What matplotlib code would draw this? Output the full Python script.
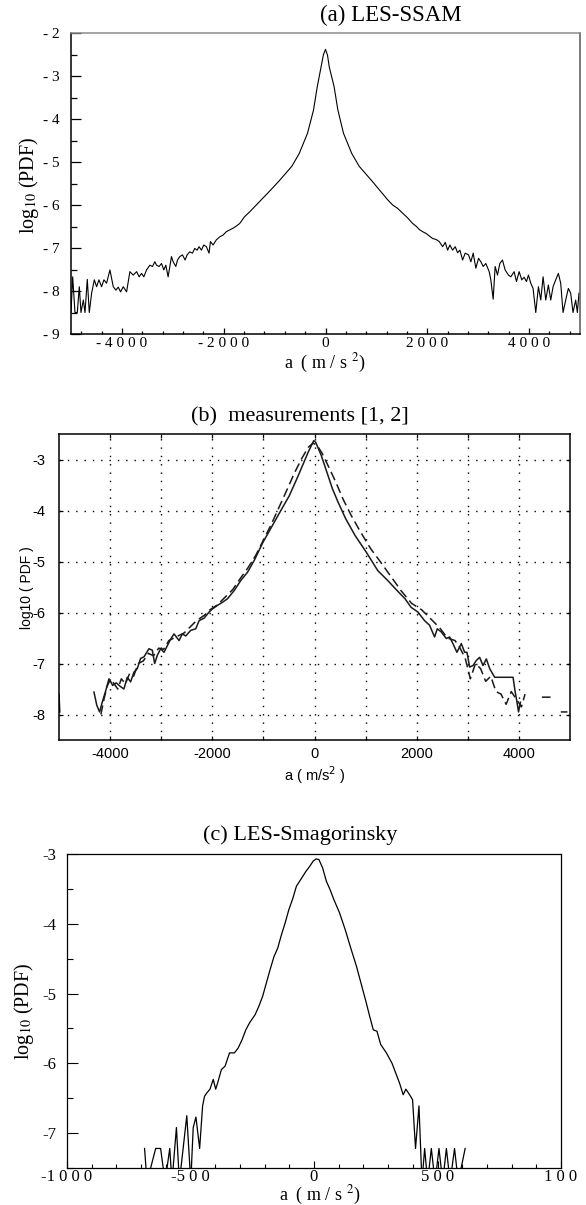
import numpy as np
import matplotlib
matplotlib.use("Agg")
import matplotlib.pyplot as plt
from matplotlib.ticker import MultipleLocator, FixedLocator, FixedFormatter

# ── (a) LES-SSAM ──
a_acc = [-5000, -4967, -4922, -4876, -4837, -4804, -4758, -4725, -4680, -4641,
         -4595, -4542, -4497, -4451, -4399, -4353, -4301, -4235, -4170, -4118,
         -4072, -4026, -3974, -3908, -3843, -3778, -3712, -3660, -3614, -3569,
         -3516, -3451, -3399, -3353, -3320, -3268, -3222, -3176, -3137, -3092,
         -3059, -3026, -2993, -2941, -2908, -2863, -2810, -2758, -2719, -2667,
         -2614, -2569, -2523, -2484, -2438, -2392, -2340, -2288, -2261, -2209,
         -2144, -2078, -2013, -1948, -1882, -1817, -1752, -1686, -1588, -1490,
         -1359, -1261, -1100, -919, -662, -515, -353, -235, -162, -88,
         -40, 0, 40, 74, 169, 243, 353, 515, 662, 919,
         1080, 1222, 1320, 1418, 1516, 1614, 1712, 1778, 1843, 1908,
         1974, 2039, 2105, 2170, 2235, 2301, 2353, 2399, 2444, 2497,
         2549, 2595, 2641, 2693, 2745, 2810, 2856, 2902, 2954, 3007,
         3052, 3098, 3150, 3216, 3248, 3294, 3333, 3379, 3425, 3477,
         3529, 3595, 3641, 3706, 3752, 3804, 3856, 3902, 3948, 3987,
         4033, 4078, 4131, 4183, 4229, 4275, 4327, 4379, 4425, 4471,
         4523, 4575, 4621, 4667, 4719, 4771, 4817, 4863, 4915, 4948, 4980]
a_logpdf = [-8.50, -7.67, -8.50, -8.50, -7.90, -8.50, -8.21, -8.50, -7.73, -8.50,
            -8.05, -7.74, -7.90, -7.74, -7.90, -7.74, -7.82, -7.51, -7.90, -7.98,
            -7.91, -8.02, -7.90, -8.02, -7.55, -7.63, -7.55, -7.67, -7.59, -7.67,
            -7.51, -7.40, -7.43, -7.32, -7.40, -7.43, -7.36, -7.51, -7.40, -7.67,
            -7.43, -7.20, -7.32, -7.43, -7.28, -7.20, -7.16, -7.28, -7.16, -7.09,
            -7.12, -7.01, -7.05, -6.97, -7.05, -6.93, -6.97, -7.12, -6.85, -6.93,
            -6.81, -6.74, -6.70, -6.62, -6.58, -6.54, -6.49, -6.43, -6.27, -6.16,
            -6.00, -5.88, -5.68, -5.45, -5.10, -4.80, -4.33, -3.79, -3.25, -2.79,
            -2.50, -2.38, -2.52, -2.79, -3.25, -3.79, -4.33, -4.80, -5.10, -5.45,
            -5.68, -5.88, -6.00, -6.08, -6.19, -6.30, -6.43, -6.49, -6.57, -6.62,
            -6.66, -6.72, -6.78, -6.80, -6.85, -6.97, -6.87, -7.05, -6.93, -7.05,
            -6.97, -7.11, -7.05, -7.28, -7.12, -7.16, -7.32, -7.12, -7.47, -7.24,
            -7.32, -7.43, -7.36, -7.55, -7.74, -8.19, -7.43, -7.63, -7.36, -7.28,
            -7.51, -7.63, -7.67, -7.55, -7.78, -7.55, -7.74, -7.68, -7.78, -7.63,
            -7.82, -7.94, -8.50, -7.90, -8.21, -7.67, -8.21, -7.86, -8.21, -7.90,
            -7.74, -7.59, -7.82, -8.50, -8.21, -7.94, -8.05, -8.50, -8.21, -8.50, -8.05]

# ── (b) measurements: solid and dashed ──
b_solid_acc = [-5000, -4985, np.nan,
               -4316, -4260, -4206, -4154, -4090, -4022, -3949, -3880, -3800, -3730,
               -3664, -3599, -3533, -3468, -3403, -3337, -3239, -3174, -3128, -3076,
               -3010, -2945, -2880, -2814, -2749, -2651, -2585, -2520, -2422, -2324,
               -2258, -2160, -2062, -1997, -1899, -1801, -1703, -1572, -1441, -1310,
               -1180, -1007, -860, -676, -493, -346, -235, -125, -15, 22,
               132, 243, 353, 463, 610, 794, 1015, 1239, 1431, 1588,
               1771, 1892, 2023, 2154, 2252, 2350, 2402, 2480, 2578, 2644,
               2709, 2787, 2873, 2938, 2984, 3036, 3102, 3167, 3232, 3297,
               3363, 3428, 3526, 3690, 3886, 3918, 3951, 3993, 4030]
b_solid_logpdf = [-7.60, -7.95, np.nan,
                  -7.56, -7.82, -7.95, -7.76, -7.55, -7.30, -7.43, -7.38, -7.45, -7.50,
                  -7.27, -7.36, -7.17, -7.10, -6.90, -6.87, -6.71, -6.74, -7.00, -6.84,
                  -6.71, -6.78, -6.65, -6.52, -6.42, -6.55, -6.42, -6.46, -6.35, -6.32,
                  -6.16, -6.11, -5.99, -5.93, -5.86, -5.80, -5.73, -5.57, -5.37, -5.21,
                  -4.98, -4.62, -4.36, -4.03, -3.71, -3.38, -3.12, -2.86, -2.63, -2.66,
                  -2.92, -3.25, -3.58, -3.84, -4.16, -4.49, -4.82, -5.18, -5.37, -5.54,
                  -5.73, -5.90, -5.99, -6.16, -6.25, -6.48, -6.32, -6.38, -6.51, -6.48,
                  -6.61, -6.78, -6.61, -6.78, -6.78, -7.07, -7.04, -6.94, -6.88, -7.04,
                  -6.91, -7.10, -7.27, -7.27, -7.27, -7.50, -7.69, -7.95, -7.76]

b_dash_acc = [-4180, -4120, -4060, -3990, -3920, -3850, -3780, -3700, -3620, -3540,
              -3450, -3350, -3250, -3150, -3050, -2950, -2850, -2750, -2650, -2550,
              -2450, -2350, -2250, -2150, -2050, -1900, -1750, -1600, -1450, -1300,
              -1150, -1000, -850, -700, -550, -400, -250, -120, -30, 50,
              150, 280, 420, 560, 720, 900, 1100, 1300, 1500, 1700,
              1900, 2100, 2300, 2450, 2600, 2750, 2850, 2950, 3050, 3150,
              3250, 3350, 3450, 3550, 3650, 3750, 3850, 3950, 4050, 4120,
              np.nan, 4450, 4620, np.nan, 4820, 4950]
b_dash_logpdf = [-8.00, -7.70, -7.45, -7.30, -7.40, -7.50, -7.30, -7.40, -7.20, -7.25,
                 -7.00, -6.95, -6.80, -6.85, -6.70, -6.72, -6.55, -6.50, -6.45, -6.40,
                 -6.30, -6.20, -6.12, -6.05, -5.95, -5.85, -5.70, -5.55, -5.33, -5.12,
                 -4.88, -4.58, -4.28, -3.95, -3.62, -3.28, -2.98, -2.76, -2.68, -2.72,
                 -2.88, -3.15, -3.45, -3.78, -4.10, -4.42, -4.75, -5.02, -5.30, -5.58,
                 -5.82, -5.95, -6.15, -6.30, -6.50, -6.55, -6.70, -6.90, -7.30, -7.00,
                 -7.10, -7.35, -7.25, -7.55, -7.60, -7.80, -7.55, -7.70, -7.85, -7.60,
                 np.nan, -7.66, -7.66, np.nan, -7.95, -7.95]

# ── (c) LES-Smagorinsky ──
c_acc = [-686, -676, -641, -621, -603, -584, -575, -557, -545, -515,
         -499, -489, -478, -463, -451, -443, -433, -421, -408, -398,
         -390, -375, -360, -342, -322, -307, -291, -276, -261, -238,
         -223, -208, -193, -178, -162, -147, -132, -117, -102, -87,
         -71, -49, -33, -18, -3, 9, 20, 35, 50, 65,
         80, 103, 126, 149, 172, 194, 210, 225, 240, 255,
         270, 293, 316, 331, 346, 361, 372, 387, 399, 411,
         425, 437, 448, 460, 475, 490, 506, 521, 536, 551,
         569, 584, 612]
c_logpdf = [-7.22, -7.70, -7.22, -7.22, -7.70, -7.22, -7.70, -6.92, -7.70, -6.75,
            -7.70, -6.92, -6.77, -7.22, -6.61, -6.47, -6.42, -6.37, -6.23, -6.37,
            -6.28, -6.09, -6.04, -5.85, -5.85, -5.78, -5.66, -5.52, -5.42, -5.30,
            -5.18, -5.04, -4.85, -4.66, -4.47, -4.35, -4.16, -3.99, -3.80, -3.65,
            -3.46, -3.34, -3.25, -3.18, -3.10, -3.07, -3.08, -3.20, -3.39, -3.51,
            -3.65, -3.84, -4.08, -4.35, -4.61, -4.90, -5.11, -5.32, -5.52, -5.54,
            -5.73, -5.85, -6.00, -6.14, -6.28, -6.45, -6.37, -6.45, -6.52, -7.22,
            -6.61, -7.70, -7.22, -7.70, -7.22, -7.70, -7.22, -7.70, -7.22, -7.70,
            -7.22, -7.70, -7.22]

W, H = 586, 1205
SERIF = ["Liberation Serif", "DejaVu Serif"]
SANS = ["Liberation Sans", "DejaVu Sans"]

plt.rcParams["axes.unicode_minus"] = False

fig = plt.figure(figsize=(W / 100, H / 100), dpi=100)


def box(x0, y0, x1, y1):
    # pixel box -> figure fraction
    return [x0 / W, 1 - y1 / H, (x1 - x0) / W, (y1 - y0) / H]


def ftext(x, y, s, **kw):
    fig.text(x / W, 1 - y / H, s, ha="center", va="center", **kw)


# ═══════════ (a) ═══════════
ax1 = fig.add_axes(box(71, 33, 580, 334))
ax1.plot(a_acc, a_logpdf, color="black", lw=0.8)
ax1.set_xlim(-5000, 5000)
ax1.set_ylim(-9, -2)
ax1.xaxis.set_major_locator(FixedLocator([-4000, -2000, 0, 2000, 4000]))
ax1.xaxis.set_major_formatter(FixedFormatter(["- 4 0 0 0", "- 2 0 0 0", "0", "2 0 0 0", "4 0 0 0"]))
ax1.xaxis.set_minor_locator(MultipleLocator(400))
ax1.yaxis.set_major_locator(FixedLocator([-9, -8, -7, -6, -5, -4, -3, -2]))
ax1.yaxis.set_major_formatter(FixedFormatter(["- 9", "- 8", "- 7", "- 6", "- 5", "- 4", "- 3", "- 2"]))
ax1.yaxis.set_minor_locator(MultipleLocator(0.5))
ax1.tick_params(axis="x", which="major", direction="in", length=4.5, width=0.9, pad=2)
ax1.tick_params(axis="x", which="minor", direction="in", length=2.5, width=0.9)
ax1.tick_params(axis="y", which="major", direction="in", length=7.5, width=0.9, pad=8)
ax1.tick_params(axis="y", which="minor", direction="in", length=4.5, width=0.9)
for lab in ax1.get_xticklabels() + ax1.get_yticklabels():
    lab.set_fontfamily(SERIF)
    lab.set_fontsize(11)
ax1.spines["left"].set_color("black")
ax1.spines["bottom"].set_color("black")
ax1.spines["top"].set_color("#8c8c8c")
ax1.spines["right"].set_color("#555555")
for s in ax1.spines.values():
    s.set_linewidth(1.1)

ftext(391, 15, "(a) LES-SSAM", family=SERIF, fontsize=16.5)
ftext(29, 185, "log$_{10}$ (PDF)", family=SERIF, fontsize=14.5, rotation=90, math_fontfamily="stix")
ftext(325, 363, "a  ( m / s $^{2}$)", family=SERIF, fontsize=13, math_fontfamily="stix")

# ═══════════ (b) ═══════════
ax2 = fig.add_axes(box(59, 434, 570, 740))
ax2.plot(b_solid_acc, b_solid_logpdf, color="#1a1a1a", lw=1.1)
ax2.plot(b_dash_acc, b_dash_logpdf, color="#1a1a1a", lw=1.1, linestyle=(0, (6, 3)))
ax2.set_xlim(-5000, 5000)
ax2.set_ylim(-8.5, -2.5)
ax2.xaxis.set_major_locator(FixedLocator([-4000, -2000, 0, 2000, 4000]))
ax2.xaxis.set_minor_locator(FixedLocator([-3000, -1000, 1000, 3000]))
ax2.yaxis.set_major_locator(FixedLocator([-8, -7, -6, -5, -4, -3]))
ax2.grid(True, which="both", color="black", lw=1.0, linestyle=(0, (1, 5)))
ax2.tick_params(which="both", direction="in", length=3, width=0.9, top=True, right=True)
ax2.tick_params(axis="y", pad=10)
ax2.tick_params(axis="x", pad=5)
for lab in ax2.get_xticklabels() + ax2.get_yticklabels():
    lab.set_fontfamily(SANS)
    lab.set_fontsize(10.5)
for s in ax2.spines.values():
    s.set_linewidth(1.1)
    s.set_color("black")

ftext(300, 417, "(b)  measurements [1, 2]", family=SERIF, fontsize=16)
ftext(27, 588, "log10 ( PDF )", family=SANS, fontsize=10, rotation=90)
ftext(315, 775, "a ( m/s$^{2}$ )", family=SANS, fontsize=10.5, math_fontfamily="dejavusans")

# ═══════════ (c) ═══════════
ax3 = fig.add_axes(box(67, 854, 561, 1168))
ax3.plot(c_acc, c_logpdf, color="black", lw=0.9)
ax3.set_xlim(-1000, 1000)
ax3.set_ylim(-7.5, -3)
ax3.xaxis.set_major_locator(FixedLocator([-1000, -500, 0, 500, 1000]))
ax3.xaxis.set_major_formatter(FixedFormatter(["-1 0 0 0", "-5 0 0", "0", "5 0 0", "1 0 0"]))
ax3.xaxis.set_minor_locator(MultipleLocator(100))
ax3.yaxis.set_major_locator(FixedLocator([-7, -6, -5, -4, -3]))
ax3.yaxis.set_major_formatter(FixedFormatter(["-7", "-6", "-5", "-4", "-3"]))
ax3.yaxis.set_minor_locator(MultipleLocator(0.5))
ax3.tick_params(axis="x", which="major", direction="in", length=5, width=0.8, pad=0.5)
ax3.tick_params(axis="x", which="minor", direction="in", length=3, width=0.8)
ax3.tick_params(axis="y", which="major", direction="in", length=8, width=0.8, pad=8)
ax3.tick_params(axis="y", which="minor", direction="in", length=4.5, width=0.8)
for lab in ax3.get_xticklabels() + ax3.get_yticklabels():
    lab.set_fontfamily(SERIF)
    lab.set_fontsize(12)
for s in ax3.spines.values():
    s.set_linewidth(0.9)
    s.set_color("black")

ftext(300, 835, "(c) LES-Smagorinsky", family=SERIF, fontsize=16)
ftext(24, 1011, "log$_{10}$ (PDF)", family=SERIF, fontsize=14.5, rotation=90, math_fontfamily="stix")
ftext(320, 1195, "a  ( m / s $^{2}$)", family=SERIF, fontsize=13, math_fontfamily="stix")

fig.savefig("out.png", dpi=100)
